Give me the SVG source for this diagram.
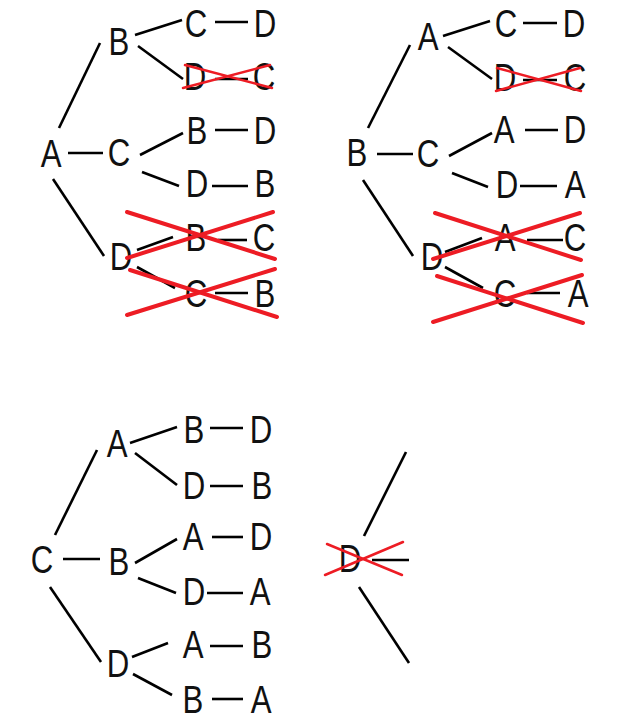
<svg xmlns="http://www.w3.org/2000/svg" width="629" height="728" viewBox="0 0 629 728">
<style>
text{font-family:"Liberation Sans",Arial,sans-serif;font-size:39px;fill:#111;text-anchor:middle;transform-box:fill-box;transform-origin:center;transform:scaleX(0.8)}
.c line{stroke:#000;stroke-width:2.6;stroke-linecap:butt}
.x line{stroke:#ED1C24;stroke-linecap:round}
.x1 line{stroke-width:2.5}
.x2 line{stroke-width:4}
</style>
<rect width="629" height="728" fill="#fff"/>
<g id="connectors" class="c">
<!-- tree A -->
<line x1="59" y1="128" x2="100" y2="43"/>
<line x1="68" y1="153" x2="103" y2="153"/>
<line x1="53" y1="179" x2="104" y2="256"/>
<line x1="135" y1="35" x2="182" y2="20"/>
<line x1="138" y1="46" x2="183" y2="79"/>
<line x1="140" y1="155" x2="183" y2="133"/>
<line x1="142" y1="172" x2="179" y2="186"/>
<line x1="137" y1="250" x2="173" y2="237"/>
<line x1="137" y1="267" x2="175" y2="288"/>
<line x1="215" y1="22" x2="248" y2="22"/>
<line x1="215" y1="79" x2="248" y2="79"/>
<line x1="215" y1="130" x2="248" y2="130"/>
<line x1="212" y1="186" x2="248" y2="186"/>
<line x1="218" y1="240" x2="247" y2="240"/>
<line x1="215" y1="293" x2="248" y2="293"/>
<!-- tree B -->
<line x1="368" y1="128" x2="410" y2="45"/>
<line x1="377" y1="154" x2="413" y2="154"/>
<line x1="363" y1="180" x2="413" y2="256"/>
<line x1="443" y1="36" x2="490" y2="21"/>
<line x1="448" y1="47" x2="492" y2="79"/>
<line x1="449" y1="156" x2="492" y2="133"/>
<line x1="452" y1="173" x2="488" y2="187"/>
<line x1="445" y1="252" x2="482" y2="238"/>
<line x1="445" y1="267" x2="483" y2="288"/>
<line x1="523" y1="23" x2="557" y2="23"/>
<line x1="523" y1="80" x2="557" y2="80"/>
<line x1="525" y1="130" x2="558" y2="130"/>
<line x1="520" y1="186" x2="557" y2="186"/>
<line x1="527" y1="240" x2="563" y2="240"/>
<line x1="527" y1="293" x2="560" y2="293"/>
<!-- tree C -->
<line x1="55" y1="535" x2="97" y2="450"/>
<line x1="63" y1="559" x2="100" y2="559"/>
<line x1="50" y1="587" x2="101" y2="662"/>
<line x1="130" y1="443" x2="177" y2="427"/>
<line x1="135" y1="453" x2="177" y2="485"/>
<line x1="135" y1="563" x2="177" y2="539"/>
<line x1="138" y1="578" x2="176" y2="593"/>
<line x1="132" y1="657" x2="168" y2="643"/>
<line x1="133" y1="674" x2="172" y2="695"/>
<line x1="210" y1="428" x2="243" y2="428"/>
<line x1="210" y1="486" x2="243" y2="486"/>
<line x1="212" y1="537" x2="243" y2="537"/>
<line x1="207" y1="593" x2="243" y2="593"/>
<line x1="210" y1="646" x2="243" y2="646"/>
<line x1="212" y1="699" x2="243" y2="699"/>
<!-- tree D -->
<line x1="364" y1="536" x2="406" y2="452"/>
<line x1="359" y1="587" x2="409" y2="663"/>
<line x1="372" y1="560" x2="409" y2="560"/>
</g>
<g id="treeA">
<text x="51" y="167">A</text>
<text x="119" y="55">B</text>
<text x="119" y="166">C</text>
<text x="121" y="270">D</text>
<text x="196" y="37">C</text>
<text x="195" y="90">D</text>
<text x="197" y="144">B</text>
<text x="197" y="197">D</text>
<text x="196" y="251">B</text>
<text x="196" y="307">C</text>
<text x="265" y="37">D</text>
<text x="264" y="90">C</text>
<text x="265" y="144">D</text>
<text x="265" y="197">B</text>
<text x="264" y="251">C</text>
<text x="265" y="307">B</text>
</g>
<g id="treeB">
<text x="357" y="166">B</text>
<text x="428" y="50">A</text>
<text x="428" y="167">C</text>
<text x="432" y="270">D</text>
<text x="506" y="37">C</text>
<text x="505" y="91">D</text>
<text x="504" y="143">A</text>
<text x="507" y="198">D</text>
<text x="505" y="251">A</text>
<text x="505" y="307">C</text>
<text x="574" y="37">D</text>
<text x="575" y="91">C</text>
<text x="575" y="143">D</text>
<text x="575" y="198">A</text>
<text x="575" y="251">C</text>
<text x="578" y="307">A</text>
</g>
<g id="treeC">
<text x="42" y="573">C</text>
<text x="117" y="457">A</text>
<text x="119" y="575">B</text>
<text x="118" y="677">D</text>
<text x="194" y="443">B</text>
<text x="194" y="499">D</text>
<text x="193" y="550">A</text>
<text x="194" y="605">D</text>
<text x="193" y="658">A</text>
<text x="193" y="713">B</text>
<text x="261" y="443">D</text>
<text x="262" y="499">B</text>
<text x="261" y="550">D</text>
<text x="260" y="605">A</text>
<text x="262" y="658">B</text>
<text x="261" y="713">A</text>
</g>
<g id="treeD">
<text x="350" y="572">D</text>
</g>
<g id="crosses" class="x">
<g class="x1">
<line x1="183" y1="88" x2="270" y2="65"/>
<line x1="185" y1="65" x2="272" y2="88"/>
<line x1="496" y1="91" x2="580" y2="68"/>
<line x1="497" y1="68" x2="581" y2="91"/>
<line x1="325" y1="575" x2="403" y2="542"/>
<line x1="327" y1="544" x2="402" y2="575"/>
</g>
<g class="x2">
<line x1="127" y1="258" x2="273" y2="212"/>
<line x1="127" y1="212" x2="275" y2="259"/>
<line x1="127" y1="315" x2="275" y2="269"/>
<line x1="130" y1="270" x2="277" y2="317"/>
<line x1="433" y1="259" x2="580" y2="213"/>
<line x1="435" y1="213" x2="581" y2="260"/>
<line x1="433" y1="322" x2="582" y2="275"/>
<line x1="437" y1="276" x2="583" y2="323"/>
</g>
</g>
</svg>
